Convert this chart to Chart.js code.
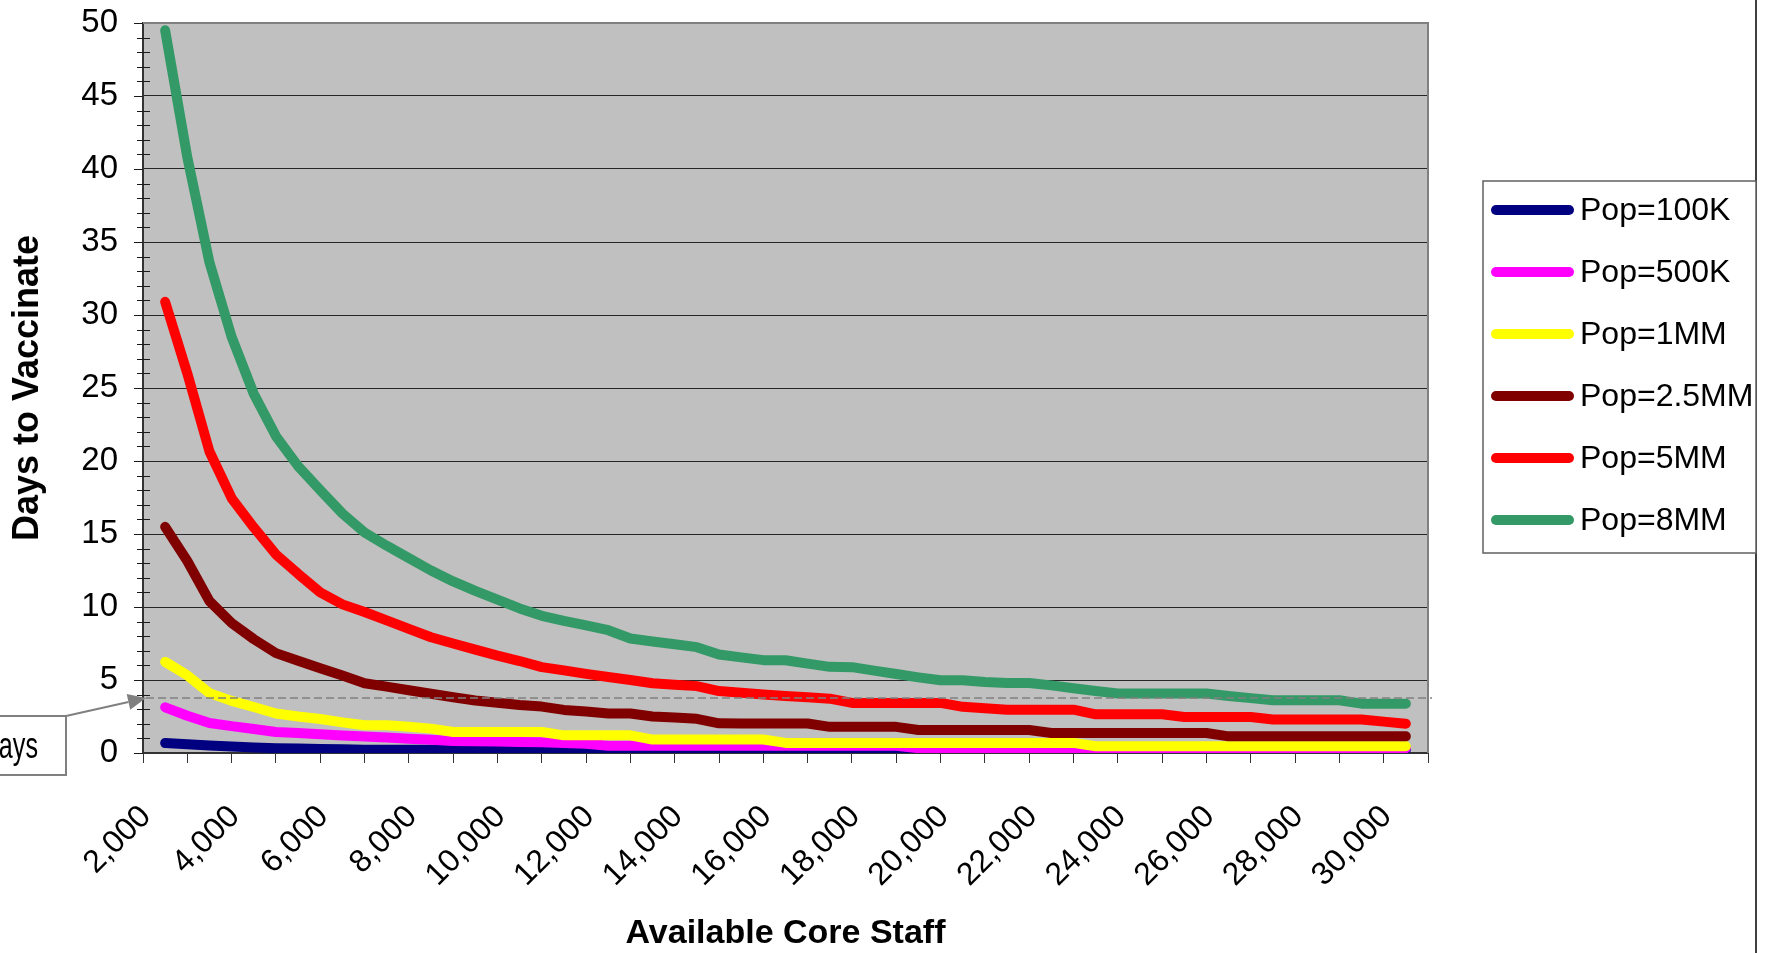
<!DOCTYPE html>
<html>
<head>
<meta charset="utf-8">
<title>Days to Vaccinate vs Available Core Staff</title>
<script src="https://cdn.jsdelivr.net/npm/chart.js@4.4.1/dist/chart.umd.min.js"></script>
<style>
  html, body { margin: 0; padding: 0; background: #ffffff; }
  #wrap { position: relative; width: 1768px; height: 953px; }
</style>
</head>
<body>
<div id="wrap"><canvas id="c" width="1768" height="953"></canvas></div>
<script>
// Available core staff (one point every 500 staff)
const staff = [2000,2500,3000,3500,4000,4500,5000,5500,6000,6500,
  7000,7500,8000,8500,9000,9500,10000,10500,11000,11500,
  12000,12500,13000,13500,14000,14500,15000,15500,16000,16500,
  17000,17500,18000,18500,19000,19500,20000,20500,21000,21500,
  22000,22500,23000,23500,24000,24500,25000,25500,26000,26500,
  27000,27500,28000,28500,29000,29500,30000];

// Days to vaccinate, one list per population size
const pop100K = [0.68,0.60,0.52,0.45,0.38,0.33,0.30,0.27,0.25,0.23,
  0.22,0.22,0.22,0.22,0.22,0.22,0.22,0.22,0.22,0.22,
  0.22,0.22,0.22,0.22,0.22,0.22,0.22,0.22,0.22,0.22,
  0.22,0.22,0.22,0.22,0.22,0.22,0.22,0.22,0.22,0.22,
  0.22,0.22,0.22,0.22,0.22,0.22,0.22,0.22,0.22,0.22,
  0.22,0.22,0.22,0.22,0.22,0.22,0.22];
const pop500K = [3.13,2.55,2.05,1.84,1.64,1.44,1.37,1.28,1.20,1.13,
  1.06,0.98,0.90,0.82,0.80,0.78,0.76,0.74,0.68,0.64,
  0.50,0.50,0.50,0.50,0.50,0.50,0.50,0.50,0.50,0.50,
  0.50,0.50,0.50,0.50,0.33,0.33,0.33,0.33,0.33,0.33,
  0.33,0.33,0.33,0.33,0.33,0.33,0.33,0.33,0.33,0.33,
  0.33,0.33,0.33,0.33,0.33,0.33,0.33];
const pop1MM = [6.24,5.32,4.10,3.57,3.15,2.71,2.50,2.33,2.10,1.90,
  1.90,1.80,1.67,1.44,1.44,1.44,1.44,1.44,1.21,1.21,
  1.21,1.21,0.92,0.92,0.92,0.92,0.92,0.92,0.69,0.69,
  0.69,0.69,0.69,0.69,0.69,0.69,0.69,0.69,0.69,0.69,
  0.69,0.69,0.46,0.46,0.46,0.46,0.46,0.46,0.46,0.46,
  0.46,0.46,0.46,0.46,0.46,0.46,0.46];
const pop2_5MM = [15.49,13.15,10.40,8.90,7.80,6.84,6.32,5.80,5.30,4.78,
  4.55,4.30,4.06,3.82,3.60,3.44,3.29,3.18,2.95,2.84,
  2.70,2.70,2.50,2.43,2.34,2.03,2.02,2.02,2.02,2.02,
  1.79,1.79,1.79,1.79,1.58,1.58,1.58,1.58,1.58,1.58,
  1.37,1.37,1.37,1.37,1.37,1.37,1.37,1.37,1.14,1.14,
  1.14,1.14,1.14,1.14,1.14,1.14,1.14];
const pop5MM = [30.90,26.00,20.65,17.45,15.45,13.60,12.27,11.00,10.18,9.66,
  9.08,8.50,7.93,7.50,7.08,6.67,6.30,5.88,5.66,5.42,
  5.21,5.00,4.78,4.68,4.58,4.24,4.12,4.00,3.91,3.82,
  3.72,3.43,3.43,3.43,3.43,3.43,3.16,3.06,2.97,2.97,
  2.97,2.97,2.65,2.65,2.65,2.65,2.47,2.47,2.47,2.47,
  2.29,2.29,2.29,2.29,2.29,2.15,2.01];
const pop8MM = [49.50,40.80,33.60,28.50,24.60,21.70,19.65,18.00,16.40,15.10,
  14.20,13.35,12.50,11.75,11.10,10.50,9.90,9.40,9.05,8.74,
  8.41,7.84,7.64,7.45,7.25,6.75,6.55,6.36,6.35,6.12,
  5.90,5.88,5.64,5.41,5.18,4.98,4.98,4.86,4.80,4.80,
  4.63,4.44,4.25,4.07,4.07,4.07,4.07,4.07,3.91,3.76,
  3.61,3.61,3.61,3.61,3.38,3.38,3.38];

const seriesNames = ['Pop=100K','Pop=500K','Pop=1MM','Pop=2.5MM','Pop=5MM','Pop=8MM'];
const seriesColors = ['#000080','#FF00FF','#FFFF00','#800000','#FF0000','#339966'];
const seriesValues = [pop100K, pop500K, pop1MM, pop2_5MM, pop5MM, pop8MM];

// Axis tick labels
const xTickLabels = ['2,000','4,000','6,000','8,000','10,000','12,000','14,000','16,000',
  '18,000','20,000','22,000','24,000','26,000','28,000','30,000'];
const labelledStaff = [2000,4000,6000,8000,10000,12000,14000,16000,18000,20000,22000,24000,26000,28000,30000];
const yTickValues = [0,5,10,15,20,25,30,35,40,45,50];

// Reference level marked by the dashed line and its callout
const markerDays = 3.77;
const calloutText = 'Days';

const FONT = "'Liberation Sans', Arial, Helvetica, sans-serif";

// x range: half a step of margin on either side of the first/last staff value
const xMin = staff[0] - 500;
const xMax = staff[staff.length - 1] + 500;
const xTickValues = [];
for (let v = xMin; v <= xMax; v += 500) xTickValues.push(v);

// fixed plot rectangle inside the canvas
const PLOT = { left: 143, top: 23, right: 1428, bottom: 753 };

function zeroPadding(scale) {
  scale.paddingTop = 0;
  scale.paddingBottom = 0;
  scale.paddingLeft = 0;
  scale.paddingRight = 0;
}

const frame = {
  id: 'frame',
  beforeDraw(chart) {
    const { ctx, chartArea: a } = chart;
    ctx.save();
    ctx.fillStyle = '#ffffff';
    ctx.fillRect(0, 0, chart.width, chart.height);
    ctx.fillStyle = '#C0C0C0';
    ctx.fillRect(a.left, a.top, a.right - a.left, a.bottom - a.top);
    ctx.restore();
  },
  beforeDatasetsDraw(chart) {
    const { ctx, chartArea: a } = chart;
    const y = chart.scales.y;
    ctx.save();
    // top and right plot border
    ctx.strokeStyle = '#808080';
    ctx.lineWidth = 2;
    ctx.beginPath();
    ctx.moveTo(a.left, a.top);
    ctx.lineTo(a.right, a.top);
    ctx.lineTo(a.right, a.bottom);
    ctx.stroke();
    // y-axis major and minor tick marks
    ctx.strokeStyle = '#1a1a1a';
    ctx.lineWidth = 1;
    for (let v = 0; v <= 50; v++) {
      const py = Math.round(y.getPixelForValue(v)) + 0.5;
      ctx.beginPath();
      if (v % 5 === 0) { ctx.moveTo(a.left - 9, py); ctx.lineTo(a.left, py); }
      else { ctx.moveTo(a.left - 6, py); ctx.lineTo(a.left + 7, py); }
      ctx.stroke();
    }
    ctx.restore();
  },
  afterDraw(chart) {
    const { ctx, chartArea: a } = chart;
    const y = chart.scales.y;
    const yd = y.getPixelForValue(markerDays);
    ctx.save();

    // dashed reference line
    ctx.setLineDash([8, 4]);
    ctx.strokeStyle = '#808080';
    ctx.lineWidth = 1.5;
    ctx.beginPath();
    ctx.moveTo(a.left + 3, yd);
    ctx.lineTo(a.right + 4, yd);
    ctx.stroke();
    ctx.setLineDash([]);

    // callout box with arrow
    ctx.fillStyle = '#ffffff';
    ctx.strokeStyle = '#808080';
    ctx.lineWidth = 2;
    ctx.fillRect(-10, 716, 76, 59);
    ctx.strokeRect(-10, 716, 76, 59);
    const sx = 66, sy = 716, tx = a.left + 3, ty = yd;
    const ang = Math.atan2(ty - sy, tx - sx);
    const headLen = 18, headHalf = 8;
    const bx = tx - headLen * Math.cos(ang), by = ty - headLen * Math.sin(ang);
    ctx.beginPath();
    ctx.moveTo(sx, sy);
    ctx.lineTo(bx, by);
    ctx.stroke();
    ctx.fillStyle = '#808080';
    ctx.beginPath();
    ctx.moveTo(tx, ty);
    ctx.lineTo(bx + headHalf * Math.sin(ang), by - headHalf * Math.cos(ang));
    ctx.lineTo(bx - headHalf * Math.sin(ang), by + headHalf * Math.cos(ang));
    ctx.closePath();
    ctx.fill();
    ctx.save();
    ctx.translate(38, 758);
    ctx.scale(0.68, 1);
    ctx.fillStyle = '#000000';
    ctx.font = '37px ' + FONT;
    ctx.textAlign = 'right';
    ctx.textBaseline = 'alphabetic';
    ctx.fillText(calloutText, 0, 0);
    ctx.restore();

    // outer chart border on the right
    ctx.strokeStyle = '#404040';
    ctx.lineWidth = 2;
    ctx.beginPath();
    ctx.moveTo(1756, 0);
    ctx.lineTo(1756, chart.height);
    ctx.stroke();

    // legend
    const lx = 1483, ly = 181, lw = 273, lh = 372;
    ctx.fillStyle = '#ffffff';
    ctx.fillRect(lx, ly, lw, lh);
    ctx.strokeStyle = '#606060';
    ctx.lineWidth = 1.5;
    ctx.strokeRect(lx, ly, lw, lh);
    ctx.font = '32px ' + FONT;
    ctx.textAlign = 'left';
    ctx.textBaseline = 'middle';
    chart.data.datasets.forEach((ds, i) => {
      const cy = 210 + i * 62;
      ctx.strokeStyle = ds.borderColor;
      ctx.lineWidth = 10;
      ctx.lineCap = 'round';
      ctx.beginPath();
      ctx.moveTo(1496, cy);
      ctx.lineTo(1569, cy);
      ctx.stroke();
      ctx.fillStyle = '#000000';
      ctx.fillText(ds.label, 1580, cy + 1);
    });
    ctx.restore();
  }
};

const datasets = seriesValues.map((vals, i) => ({
  label: seriesNames[i],
  data: vals,
  borderColor: seriesColors[i],
  backgroundColor: seriesColors[i],
  borderWidth: 10,
  borderCapStyle: 'round',
  borderJoinStyle: 'round',
  pointRadius: 0,
  pointHoverRadius: 0,
  tension: 0,
  fill: false,
  clip: 0,
  order: seriesValues.length - i
}));

new Chart(document.getElementById('c'), {
  type: 'line',
  data: { labels: staff, datasets },
  options: {
    responsive: false,
    animation: false,
    events: [],
    layout: { padding: { top: PLOT.top, right: 1768 - PLOT.right, left: 0, bottom: 0 } },
    plugins: { legend: { display: false }, tooltip: { enabled: false } },
    scales: {
      x: {
        type: 'linear',
        min: xMin,
        max: xMax,
        afterBuildTicks(scale) { scale.ticks = xTickValues.map(v => ({ value: v })); },
        afterFit(scale) { scale.height = 953 - PLOT.bottom; zeroPadding(scale); },
        ticks: {
          autoSkip: false,
          minRotation: 45,
          maxRotation: 45,
          padding: 35,
          labelOffset: -19,
          color: '#000000',
          font: { family: FONT, size: 32 },
          callback(v) {
            const k = labelledStaff.indexOf(v);
            return k >= 0 ? xTickLabels[k] : '';
          }
        },
        grid: {
          drawOnChartArea: false,
          drawTicks: true,
          tickLength: 10,
          tickWidth: 1,
          tickColor(ctx) {
            return ctx.tick && (ctx.tick.value % 1000 === 500) ? '#333333' : 'rgba(0,0,0,0)';
          }
        },
        border: { display: true, color: '#333333', width: 2 },
        title: {
          display: true,
          text: 'Available Core Staff',
          color: '#000000',
          font: { family: FONT, size: 34, weight: 'bold', lineHeight: 1 },
          padding: { top: 0, bottom: 2 }
        }
      },
      y: {
        min: 0,
        max: 50,
        afterBuildTicks(scale) { scale.ticks = yTickValues.map(v => ({ value: v })); },
        afterFit(scale) { scale.width = PLOT.left; zeroPadding(scale); },
        ticks: {
          padding: 25,
          color: '#000000',
          font: { family: FONT, size: 33 }
        },
        grid: { color: '#262626', lineWidth: 1, drawTicks: false },
        border: { display: true, color: '#333333', width: 2 },
        title: {
          display: true,
          text: 'Days to Vaccinate',
          color: '#000000',
          font: { family: FONT, size: 36, weight: 'bold', lineHeight: 1.2 },
          padding: { top: 6, bottom: 0 }
        }
      }
    }
  },
  plugins: [frame]
});
</script>
</body>
</html>
